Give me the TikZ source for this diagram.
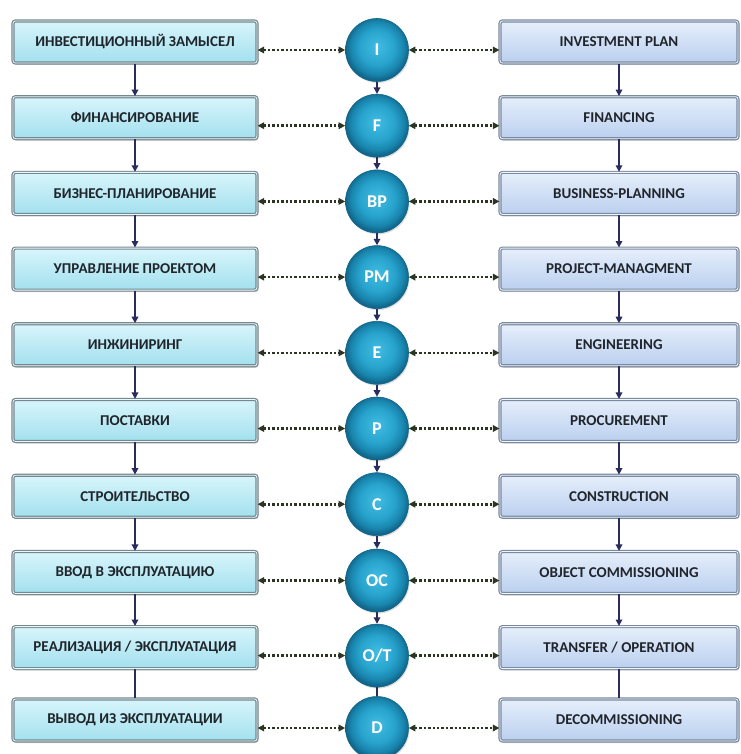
\documentclass[tikz,border=0pt]{standalone}
\usepackage{fontspec}
\setmainfont{Carlito}
\usetikzlibrary{arrows.meta,shadows}

% palette
\definecolor{lTop}{HTML}{D8F5FB}
\definecolor{lBot}{HTML}{A2E0EE}
\definecolor{lEdge}{HTML}{76888F}
\definecolor{lInner}{HTML}{EAF9FC}
\definecolor{rTop}{HTML}{E6EFFB}
\definecolor{rBot}{HTML}{BACFEF}
\definecolor{rEdge}{HTML}{7A8AA0}
\definecolor{rInner}{HTML}{F1F5FC}
\definecolor{txt}{HTML}{20252B}
\definecolor{navy}{HTML}{2B2C5E}
\definecolor{dotc}{HTML}{2A3522}
\definecolor{ballA}{HTML}{42BCE2}
\definecolor{ballB}{HTML}{27A3CD}
\definecolor{ballC}{HTML}{1985AD}
\definecolor{ballD}{HTML}{11668A}

\pgfdeclareradialshading{tealball}{\pgfpoint{0bp}{3bp}}{%
  color(0bp)=(ballA); color(14bp)=(ballB); color(21bp)=(ballC);
  color(25bp)=(ballD); color(50bp)=(ballD)}

\tikzset{
  boxbase/.style={rounded corners=2.5pt, line width=1.2pt, double distance=0.8pt,
    minimum height=42pt, inner sep=0pt, text=txt,
    font=\bfseries\fontsize{15}{17}\selectfont,
    drop shadow={opacity=0.3, shadow xshift=1.5pt, shadow yshift=-2pt}},
  lbox/.style={boxbase, draw=lEdge, double=lInner, top color=lTop, bottom color=lBot,
    minimum width=244pt},
  rbox/.style={boxbase, draw=rEdge, double=rInner, top color=rTop, bottom color=rBot,
    minimum width=238pt},
  ball/.style={circle, minimum size=63pt, inner sep=0pt, shading=tealball,
    text=white, font=\bfseries\fontsize{18}{19}\selectfont,
    draw=ballD, line width=0.6pt,
    drop shadow={opacity=0.25, shadow xshift=1pt, shadow yshift=-1.5pt}},
  flow/.style={draw=navy, line width=1.7pt},
  flowtip/.style={flow, -{Triangle[length=6.5pt,width=6.5pt]}},
  link/.style={draw=dotc, line width=2.6pt, dash pattern=on 2.4pt off 2pt,
    {Triangle[length=6.5pt,width=6.5pt]}-{Triangle[length=6.5pt,width=6.5pt]}}
}

% one row: index, y of the link line, left text, circle text, right text
\newcommand\stagerow[5]{%
  \node[lbox] (L#1) at (135,#2-8) {#3};
  \node[ball] (C#1) at (377,#2) {#4};
  \node[rbox] (R#1) at (619,#2-8) {#5};
  \draw[link] ([yshift=-8pt]L#1.east) -- (C#1);
  \draw[link] (C#1) -- ([yshift=-8pt]R#1.west);
}

\begin{document}
\begin{tikzpicture}[x=1pt,y=-1pt]
\fill[white] (0,0) rectangle (740,754);
\useasboundingbox (0,0) rectangle (740,754);

\stagerow{1}{50}{ИНВЕСТИЦИОННЫЙ ЗАМЫСЕЛ}{I}{INVESTMENT PLAN}
\stagerow{2}{125.7}{ФИНАНСИРОВАНИЕ}{F}{FINANCING}
\stagerow{3}{201.4}{БИЗНЕС-ПЛАНИРОВАНИЕ}{BP}{BUSINESS-PLANNING}
\stagerow{4}{277.1}{УПРАВЛЕНИЕ ПРОЕКТОМ}{PM}{PROJECT-MANAGMENT}
\stagerow{5}{352.8}{ИНЖИНИРИНГ}{E}{ENGINEERING}
\stagerow{6}{428.5}{ПОСТАВКИ}{P}{PROCUREMENT}
\stagerow{7}{504.2}{СТРОИТЕЛЬСТВО}{C}{CONSTRUCTION}
\stagerow{8}{580.5}{ВВОД В ЭКСПЛУАТАЦИЮ}{OC}{OBJECT COMMISSIONING}
\stagerow{9}{655.6}{РЕАЛИЗАЦИЯ / ЭКСПЛУАТАЦИЯ}{O/T}{TRANSFER / OPERATION}
\stagerow{10}{728}{ВЫВОД ИЗ ЭКСПЛУАТАЦИИ}{D}{DECOMMISSIONING}

% sequence arrows down each column
\foreach \a/\b in {1/2,2/3,3/4,4/5,5/6,6/7,7/8,8/9}{
  \draw[flowtip] (L\a) -- (L\b);
  \draw[flowtip] (C\a) -- (C\b);
  \draw[flowtip] (R\a) -- (R\b);
}
\draw[flow] (L9) -- (L10);
\draw[flow] (C9) -- (C10);
\draw[flow] (R9) -- (R10);
\end{tikzpicture}
\end{document}
